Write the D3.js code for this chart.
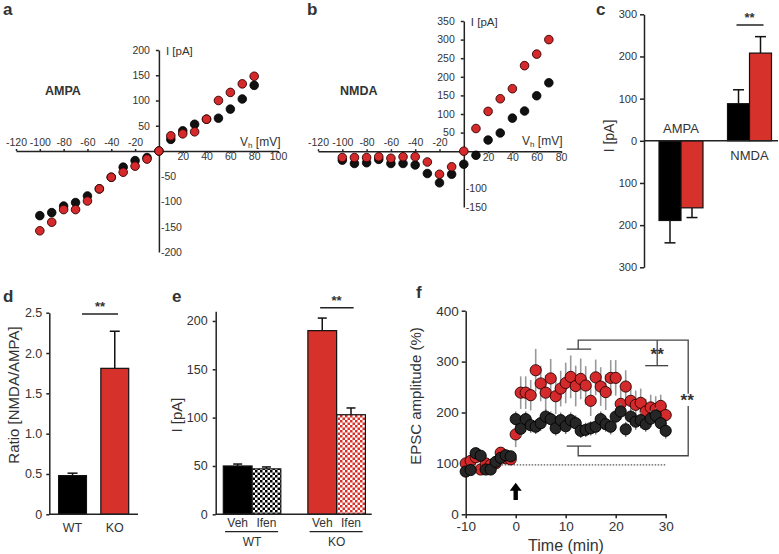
<!DOCTYPE html>
<html><head><meta charset="utf-8">
<script src="https://cdn.jsdelivr.net/npm/d3@7"></script>
<style>
body{margin:0;background:#fff}
text{font-family:"Liberation Sans",Arial,sans-serif;fill:#333}
</style>
</head><body>
<svg id="fig" width="779" height="554"></svg>
<script>
// ---------- DATA ----------
// Panel a: AMPA I-V
const ivVoltageA = [-100,-90,-80,-70,-60,-50,-40,-30,-20,-10,0,10,20,30,40,50,60,70,80];
const ampaWT = [-128,-122,-109,-102,-89,-75,-52,-32,-19,-13,0,23,40,53,63,65,83,103,130];
const ampaKO = [-158,-141,-116,-116,-99,-75,-52,-42,-30,-16,0,30,34,38,63,100,116,133,148];
const ampaXTicks = [-120,-100,-80,-60,-40,-20,20,40,60,80,100];
const ampaYTicksPos = [50,100,150,200];
const ampaYTicksNeg = [-50,-100,-150,-200];
// Panel b: NMDA I-V
const ivVoltageB = [-100,-90,-80,-70,-60,-50,-40,-30,-20,-10,0,10,20,30,40,50,60,70];
const nmdaWT = [-24,-33,-31,-22,-33,-33,-37,-60,-85,-62,-35,-11,30,49,89,108,149,184];
const nmdaKO = [-17,-17,-17,-15,-19,-15,-15,-29,-62,-42,0,61,107,141,168,230,261,300];
const nmdaXTicks = [-120,-100,-80,-60,-40,-20,20,40,60,80];
const nmdaYTicksPos = [50,100,150,200,250,300,350];
const nmdaYTicksNeg = [-100,-150];
// Panel c: peak currents
const cCategories = ["AMPA","NMDA"];
const cWT = [-189, 88];
const cWTErr = [53, 33];
const cKO = [-159, 208];
const cKOErr = [23, 39];
const cYTicks = [-300,-200,-100,0,100,200,300];
// Panel d: ratio
const dGroups = ["WT","KO"];
const dRatio = [0.48, 1.81];
const dErr = [0.03, 0.46];
const dYTicks = [0,0.5,1.0,1.5,2.0,2.5];
// Panel e: ifenprodil
const eGroups = ["WT","KO"];
const eTreat = ["Veh","Ifen"];
const eVeh = [50, 190];
const eVehErr = [2, 13];
const eIfen = [47, 103];
const eIfenErr = [2, 7];
const eYTicks = [0,50,100,150,200];
// Panel f: LTP time course
const fTime = [-10,-9,-8,-7,-6,-5,-4,-3,-2,-1,0,1,2,3,4,5,6,7,8,9,10,11,12,13,14,15,16,17,18,19,20,21,22,23,24,25,26,27,28,29,30];
const fWT = [84,87,120,115,88,88,103,111,116,114,187,168,187,175,172,179,192,187,169,185,173,185,179,164,166,169,172,187,177,172,192,202,167,192,182,185,177,188,194,179,164];
const fWTErr = [6,6,6,6,6,6,6,6,6,6,15,14,15,15,14,15,15,15,14,15,15,15,15,14,14,14,15,15,15,15,16,16,15,16,16,16,15,16,16,16,15];
const fKO = [100,105,112,88,100,97,100,121,110,108,157,239,239,234,283,257,239,267,232,247,258,270,252,266,253,223,269,251,240,268,268,217,251,223,215,219,202,210,207,213,195];
const fKOErr = [8,8,8,8,8,8,8,8,8,8,25,32,32,30,42,35,35,38,35,35,40,42,40,40,38,30,35,38,35,35,35,30,32,28,28,28,25,25,25,22,20];
const fXTicks = [-10,0,10,20,30];
const fYTicks = [0,100,200,300,400];

// ---------- STYLE ----------
const RED = "#d6312a", REDPT = "#d42a2c", BLK = "#111";
const svg = d3.select("#fig");
svg.append("rect").attr("width",779).attr("height",554).attr("fill","#fff");
const defs = svg.append("defs");
function checker(id, col){
  const p = defs.append("pattern").attr("id",id).attr("width",5).attr("height",5).attr("patternUnits","userSpaceOnUse");
  p.append("rect").attr("width",5).attr("height",5).attr("fill","#fff");
  p.append("rect").attr("width",2.5).attr("height",2.5).attr("fill",col);
  p.append("rect").attr("x",2.5).attr("y",2.5).attr("width",2.5).attr("height",2.5).attr("fill",col);
}
checker("chkB","#000"); checker("chkR",RED);

function styleAxis(g, fs){
  g.selectAll("path,line").attr("stroke","#222").attr("stroke-width",1.5);
  g.selectAll("text").attr("font-size",fs).attr("fill","#333").attr("font-family","Liberation Sans, Arial, sans-serif");
}
function panelLabel(t,x,y){ svg.append("text").attr("x",x).attr("y",y).attr("font-size",17).attr("font-weight","bold").attr("fill","#111").text(t); }
const fmt = d => String(d);

// ---------- PANEL a ----------
{
  const x = d3.scaleLinear().domain([-120,100]).range([16,278]);
  const y = d3.scaleLinear().domain([-200,200]).range([252,50]);
  const g = svg.append("g");
  const x0 = x(0), y0 = y(0);
  const ax1 = g.append("g").attr("transform",`translate(0,${y0})`).call(d3.axisTop(x).tickValues(ampaXTicks.filter(v=>v<0)).tickSize(2).tickPadding(3).tickSizeOuter(0).tickFormat(fmt));
  const ax2 = g.append("g").attr("transform",`translate(0,${y0})`).call(d3.axisBottom(x).tickValues(ampaXTicks.filter(v=>v>0)).tickSize(2).tickPadding(0).tickSizeOuter(0).tickFormat(fmt));
  const ay1 = g.append("g").attr("transform",`translate(${x0},0)`).call(d3.axisLeft(y).tickValues(ampaYTicksPos).tickSize(3).tickPadding(6).tickSizeOuter(0).tickFormat(fmt));
  const ay2 = g.append("g").attr("transform",`translate(${x0},0)`).call(d3.axisRight(y).tickValues(ampaYTicksNeg).tickSize(0).tickPadding(2).tickSizeOuter(0).tickFormat(fmt));
  [ax1,ax2,ay1,ay2].forEach(a=>styleAxis(a,10.5));
  ax2.select(".domain").remove(); ay2.select(".domain").remove();
  g.append("text").attr("x",x0+7).attr("y",55).attr("font-size",11.5).text("I [pA]");
  const vh = g.append("text").attr("x",240).attr("y",146).attr("font-size",12);
  vh.append("tspan").text("V"); vh.append("tspan").attr("font-size",8).attr("dy",2).text("h"); vh.append("tspan").attr("dy",-2).text(" [mV]");
  g.append("text").attr("x",45).attr("y",95).attr("font-size",12.5).attr("font-weight","bold").attr("fill","#222").text("AMPA");
  g.selectAll(".pw").data(ivVoltageA).enter().append("circle").attr("cx",d=>x(d)).attr("cy",(d,i)=>y(ampaWT[i])).attr("r",4.3).attr("fill",BLK).attr("stroke","#000").attr("stroke-width",0.8);
  g.selectAll(".pk").data(ivVoltageA).enter().append("circle").attr("cx",d=>x(d)).attr("cy",(d,i)=>y(ampaKO[i])).attr("r",4.3).attr("fill",REDPT).attr("stroke","#300").attr("stroke-width",0.9);
  panelLabel("a",3,15);
}

// ---------- PANEL b ----------
{
  const x = d3.scaleLinear().domain([-120,80]).range([318,561]);
  const y = d3.scaleLinear().domain([-150,350]).range([207,21]);
  const g = svg.append("g");
  const x0 = x(0), y0 = y(0);
  const ax1 = g.append("g").attr("transform",`translate(0,${y0})`).call(d3.axisTop(x).tickValues(nmdaXTicks.filter(v=>v<0)).tickSize(2).tickPadding(3).tickSizeOuter(0).tickFormat(fmt));
  const ax2 = g.append("g").attr("transform",`translate(0,${y0})`).call(d3.axisBottom(x).tickValues(nmdaXTicks.filter(v=>v>0)).tickSize(2).tickPadding(0).tickSizeOuter(0).tickFormat(fmt));
  const ay1 = g.append("g").attr("transform",`translate(${x0},0)`).call(d3.axisLeft(y).tickValues(nmdaYTicksPos).tickSize(3).tickPadding(6).tickSizeOuter(0).tickFormat(fmt));
  const ay2 = g.append("g").attr("transform",`translate(${x0},0)`).call(d3.axisRight(y).tickValues(nmdaYTicksNeg).tickSize(0).tickPadding(2).tickSizeOuter(0).tickFormat(fmt));
  [ax1,ax2,ay1,ay2].forEach(a=>styleAxis(a,10.5));
  ax2.select(".domain").remove(); ay2.select(".domain").remove();
  g.append("text").attr("x",x0+7).attr("y",26).attr("font-size",11.5).text("I [pA]");
  const vh = g.append("text").attr("x",522).attr("y",145).attr("font-size",12);
  vh.append("tspan").text("V"); vh.append("tspan").attr("font-size",8).attr("dy",2).text("h"); vh.append("tspan").attr("dy",-2).text(" [mV]");
  g.append("text").attr("x",340).attr("y",95).attr("font-size",12.5).attr("font-weight","bold").attr("fill","#222").text("NMDA");
  g.selectAll(".pw").data(ivVoltageB).enter().append("circle").attr("cx",d=>x(d)).attr("cy",(d,i)=>y(nmdaWT[i])).attr("r",4.3).attr("fill",BLK).attr("stroke","#000").attr("stroke-width",0.8);
  g.selectAll(".pk").data(ivVoltageB).enter().append("circle").attr("cx",d=>x(d)).attr("cy",(d,i)=>y(nmdaKO[i])).attr("r",4.3).attr("fill",REDPT).attr("stroke","#300").attr("stroke-width",0.9);
  panelLabel("b",307,15);
}

// ---------- PANEL c ----------
{
  const y = d3.scaleLinear().domain([-300,300]).range([267.3,14.3]);
  const xb = d3.scaleBand().domain(cCategories).range([645.3,785.2]).paddingInner(0.358).paddingOuter(0.2);
  const xs = d3.scaleBand().domain(["WT","KO"]).range([0,xb.bandwidth()]);
  const g = svg.append("g");
  const ay = g.append("g").attr("transform","translate(644,0)").call(d3.axisLeft(y).tickValues(cYTicks).tickSize(4).tickPadding(3).tickSizeOuter(0).tickFormat(d=>String(Math.abs(d))));
  styleAxis(ay,11);
  const series = [{k:"WT",v:cWT,e:cWTErr,c:"#000"},{k:"KO",v:cKO,e:cKOErr,c:RED}];
  series.forEach(s=>{
    cCategories.forEach((cat,i)=>{
      const v=s.v[i], e=s.e[i];
      const bx = xb(cat)+xs(s.k), bw = xs.bandwidth(), cx = bx+bw/2;
      const tip = v<0 ? v-e : v+e;
      g.append("line").attr("x1",cx).attr("x2",cx).attr("y1",y(v)).attr("y2",y(tip)).attr("stroke","#111").attr("stroke-width",1.5);
      g.append("line").attr("x1",cx-5.5).attr("x2",cx+5.5).attr("y1",y(tip)).attr("y2",y(tip)).attr("stroke","#111").attr("stroke-width",1.5);
      g.append("rect").attr("x",bx).attr("width",bw).attr("y",y(Math.max(0,v))).attr("height",Math.abs(y(v)-y(0))).attr("fill",s.c).attr("stroke","#111").attr("stroke-width",1.2);
    });
  });
  g.append("line").attr("x1",644).attr("x2",778).attr("y1",y(0)).attr("y2",y(0)).attr("stroke","#222").attr("stroke-width",1.5);
  g.append("text").attr("x",xb("AMPA")+xb.bandwidth()/2).attr("y",133).attr("text-anchor","middle").attr("font-size",13).text("AMPA");
  g.append("text").attr("x",xb("NMDA")+xb.bandwidth()/2).attr("y",160).attr("text-anchor","middle").attr("font-size",13).text("NMDA");
  g.append("text").attr("transform","translate(614,136) rotate(-90)").attr("text-anchor","middle").attr("font-size",14).text("I [pA]");
  const nc = xb("NMDA")+xb.bandwidth()/2;
  g.append("line").attr("x1",nc-13).attr("x2",nc+14).attr("y1",25).attr("y2",25).attr("stroke","#222").attr("stroke-width",1.5);
  g.append("text").attr("x",nc).attr("y",22).attr("text-anchor","middle").attr("font-size",13).attr("font-weight","bold").text("**");
  panelLabel("c",596,15);
}

// ---------- PANEL d ----------
{
  const y = d3.scaleLinear().domain([0,2.5]).range([514.3,312.7]);
  const x = d3.scaleBand().domain(dGroups).range([49.3,138]).paddingInner(0.34).paddingOuter(0.22);
  const g = svg.append("g");
  dGroups.forEach((k,i)=>{
    const cx = x(k)+x.bandwidth()/2, tip = dRatio[i]+dErr[i];
    g.append("line").attr("x1",cx).attr("x2",cx).attr("y1",y(dRatio[i])).attr("y2",y(tip)).attr("stroke","#111").attr("stroke-width",1.5);
    g.append("line").attr("x1",cx-5).attr("x2",cx+5).attr("y1",y(tip)).attr("y2",y(tip)).attr("stroke","#111").attr("stroke-width",1.5);
    g.append("rect").attr("x",x(k)).attr("width",x.bandwidth()).attr("y",y(dRatio[i])).attr("height",y(0)-y(dRatio[i])).attr("fill",i==0?"#000":RED).attr("stroke","#111").attr("stroke-width",1.2);
  });
  const ay = g.append("g").attr("transform","translate(49.3,0)").call(d3.axisLeft(y).tickValues(dYTicks).tickSize(3).tickPadding(4).tickSizeOuter(0).tickFormat(d=>d===0?"0":d3.format(".1f")(d)));
  styleAxis(ay,12.5);
  g.append("line").attr("x1",49.3).attr("x2",138).attr("y1",y(0)).attr("y2",y(0)).attr("stroke","#222").attr("stroke-width",1.5);
  dGroups.forEach(k=>g.append("text").attr("x",x(k)+x.bandwidth()/2).attr("y",532).attr("text-anchor","middle").attr("font-size",12.5).text(k));
  g.append("text").attr("transform","translate(19,395) rotate(-90)").attr("text-anchor","middle").attr("font-size",15).text("Ratio [NMDA/AMPA]");
  g.append("line").attr("x1",82).attr("x2",118).attr("y1",314).attr("y2",314).attr("stroke","#222").attr("stroke-width",1.5);
  g.append("text").attr("x",100).attr("y",311).attr("text-anchor","middle").attr("font-size",13).attr("font-weight","bold").text("**");
  panelLabel("d",3,302);
}

// ---------- PANEL e ----------
{
  const y = d3.scaleLinear().domain([0,210]).range([514.3,311.3]);
  const xg = d3.scaleBand().domain(eGroups).range([215.7,373]).paddingInner(0.32).paddingOuter(0.09);
  const xs = d3.scaleBand().domain(eTreat).range([0,xg.bandwidth()]);
  const g = svg.append("g");
  eGroups.forEach((grp,i)=>{
    const vals = [[eVeh[i],eVehErr[i]],[eIfen[i],eIfenErr[i]]];
    eTreat.forEach((t,j)=>{
      const [v,e] = vals[j];
      const bx = xg(grp)+xs(t), bw = xs.bandwidth(), cx = bx+bw/2;
      g.append("line").attr("x1",cx).attr("x2",cx).attr("y1",y(v)).attr("y2",y(v+e)).attr("stroke","#111").attr("stroke-width",1.5);
      g.append("line").attr("x1",cx-4.5).attr("x2",cx+4.5).attr("y1",y(v+e)).attr("y2",y(v+e)).attr("stroke","#111").attr("stroke-width",1.5);
      const fill = j===0 ? (i===0?"#000":RED) : (i===0?"url(#chkB)":"url(#chkR)");
      g.append("rect").attr("x",bx).attr("width",bw).attr("y",y(v)).attr("height",y(0)-y(v)).attr("fill",fill).attr("stroke","#111").attr("stroke-width",1.2);
      g.append("text").attr("x",cx).attr("y",527).attr("text-anchor","middle").attr("font-size",12).text(t);
    });
    const gc = xg(grp)+xg.bandwidth()/2;
    g.append("line").attr("x1",gc-27).attr("x2",gc+26).attr("y1",531.7).attr("y2",531.7).attr("stroke","#222").attr("stroke-width",1.2);
    g.append("text").attr("x",gc).attr("y",546).attr("text-anchor","middle").attr("font-size",12).text(grp);
  });
  const ay = g.append("g").attr("transform","translate(215.7,0)").call(d3.axisLeft(y).tickValues(eYTicks).tickSize(3).tickPadding(5).tickSizeOuter(0).tickFormat(fmt));
  styleAxis(ay,12.5);
  g.append("line").attr("x1",215.7).attr("x2",371.7).attr("y1",y(0)).attr("y2",y(0)).attr("stroke","#222").attr("stroke-width",1.5);
  g.append("text").attr("transform","translate(182,415) rotate(-90)").attr("text-anchor","middle").attr("font-size",15).text("I [pA]");
  const kc = xg("KO")+xg.bandwidth()/2;
  g.append("line").attr("x1",kc-16.5).attr("x2",kc+17).attr("y1",307.7).attr("y2",307.7).attr("stroke","#222").attr("stroke-width",1.5);
  g.append("text").attr("x",kc).attr("y",305).attr("text-anchor","middle").attr("font-size",13).attr("font-weight","bold").text("**");
  panelLabel("e",172,302);
}

// ---------- PANEL f ----------
{
  const x = d3.scaleLinear().domain([-10,30]).range([465.7,665.7]);
  const y = d3.scaleLinear().domain([0,400]).range([514.3,310.7]);
  const g = svg.append("g");
  const ay = g.append("g").attr("transform","translate(465.7,0)").call(d3.axisLeft(y).tickValues(fYTicks).tickSize(4).tickPadding(3).tickSizeOuter(0).tickFormat(fmt));
  const ax = g.append("g").attr("transform",`translate(0,${y(0)})`).call(d3.axisBottom(x).tickValues(fXTicks).tickSize(4).tickPadding(3).tickSizeOuter(0).tickFormat(fmt));
  styleAxis(ay,13.5); styleAxis(ax,13.5);
  g.append("text").attr("x",566).attr("y",551).attr("text-anchor","middle").attr("font-size",16).text("Time (min)");
  g.append("text").attr("transform","translate(421,396) rotate(-90)").attr("text-anchor","middle").attr("font-size",15).text("EPSC amplitude (%)");
  // baseline dotted
  g.append("line").attr("x1",x(-10)).attr("x2",x(30)).attr("y1",y(97)).attr("y2",y(97)).attr("stroke","#555").attr("stroke-width",1.2).attr("stroke-dasharray","1.5,1.5");
  // error bars
  fTime.forEach((t,i)=>{
    g.append("line").attr("x1",x(t)).attr("x2",x(t)).attr("y1",y(fKO[i]-fKOErr[i])).attr("y2",y(fKO[i]+fKOErr[i])).attr("stroke","#999").attr("stroke-width",1.6);
  });
  g.selectAll(".rk").data(fTime).enter().append("circle").attr("cx",d=>x(d)).attr("cy",(d,i)=>y(fKO[i])).attr("r",5.6).attr("fill",REDPT).attr("stroke","#2a0000").attr("stroke-width",0.9);
  fTime.forEach((t,i)=>{
    g.append("line").attr("x1",x(t)).attr("x2",x(t)).attr("y1",y(fWT[i]-fWTErr[i])).attr("y2",y(fWT[i]+fWTErr[i])).attr("stroke","#777").attr("stroke-width",1.4);
  });
  g.selectAll(".rw").data(fTime).enter().append("circle").attr("cx",d=>x(d)).attr("cy",(d,i)=>y(fWT[i])).attr("r",5.6).attr("fill","#262626").attr("stroke","#000").attr("stroke-width",0.9);
  // arrow at t=0
  const ax0 = x(0), yb = y(28), yt = y(62);
  g.append("path").attr("d",`M${ax0-2.2},${yb} L${ax0-2.2},${yt+8} L${ax0-6},${yt+8} L${ax0},${yt} L${ax0+6},${yt+8} L${ax0+2.2},${yt+8} L${ax0+2.2},${yb} Z`).attr("fill","#000");
  // brackets
  const st = {stroke:"#444","stroke-width":1.3,fill:"none"};
  function pl(pts){ const p=g.append("path").attr("d",d3.line()(pts)); Object.entries(st).forEach(([k,v])=>p.attr(k,v)); }
  pl([[x(10.2),y(324.5)],[x(15.1),y(324.5)]]);
  pl([[x(12.5),y(324.5)],[x(12.5),y(342)],[x(34.5),y(342)],[x(34.5),y(237)]]);
  pl([[x(34.5),y(213)],[x(34.5),y(115)],[x(12.5),y(115)],[x(12.5),y(134)]]);
  pl([[x(10.2),y(134)],[x(15.1),y(134)]]);
  pl([[x(28.3),y(342)],[x(28.3),y(292)]]);
  pl([[x(25.9),y(292)],[x(30.5),y(292)]]);
  g.append("text").attr("x",x(28.3)).attr("y",y(303)).attr("text-anchor","middle").attr("font-size",17).attr("font-weight","bold").attr("fill","#555").text("**");
  g.append("text").attr("x",x(34.3)).attr("y",y(212)).attr("text-anchor","middle").attr("font-size",17).attr("font-weight","bold").attr("fill","#555").text("**");
  panelLabel("f",416,298);
}
</script>
</body></html>
